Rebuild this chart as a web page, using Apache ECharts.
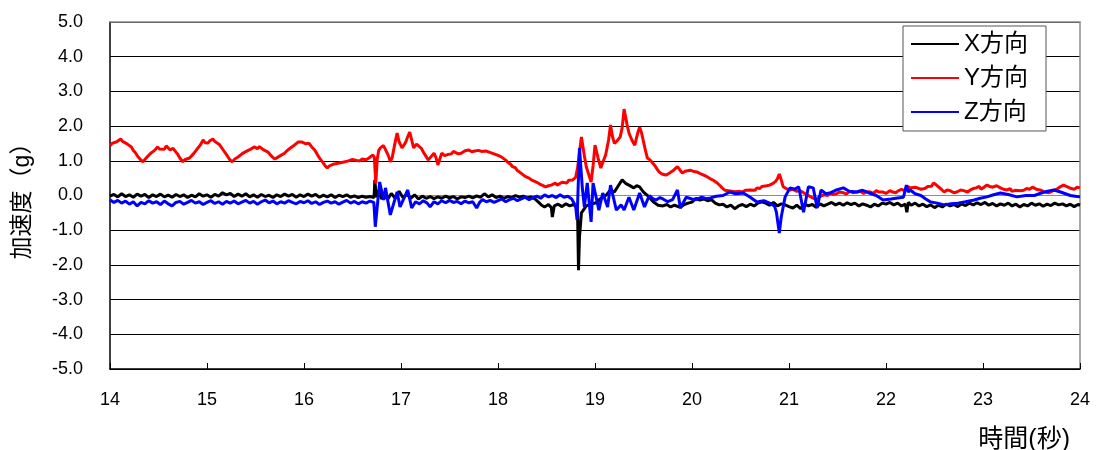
<!DOCTYPE html>
<html>
<head>
<meta charset="utf-8">
<script src="https://cdn.jsdelivr.net/npm/echarts@6/dist/echarts.min.js"></script>
<style>
html,body{margin:0;padding:0;background:#fff;}
#chart{width:1101px;height:450px;}
</style>
</head>
<body>
<div id="chart"></div>
<script>
// Series names
const seriesNames = ['X方向', 'Y方向', 'Z方向'];
const yTicks = [-5, -4, -3, -2, -1, 0, 1, 2, 3, 4, 5];
const xTicks = [14, 15, 16, 17, 18, 19, 20, 21, 22, 23, 24];

// X direction [time (s), acceleration (g)]
const dataX = [
[14.00,-0.02],[14.04,0.03],[14.08,-0.04],[14.12,0.05],[14.16,-0.03],[14.20,0.02],[14.24,-0.05],[14.28,0.04],[14.32,-0.02],[14.36,0.03],
[14.40,-0.06],[14.44,0.02],[14.48,-0.03],[14.52,0.04],[14.56,-0.04],[14.60,0.01],[14.64,-0.05],[14.68,0.03],[14.72,-0.03],[14.76,0.02],
[14.80,-0.06],[14.84,0.01],[14.88,-0.04],[14.92,0.05],[14.96,-0.02],[15.00,0.02],[15.04,-0.05],[15.08,0.03],[15.12,-0.02],[15.16,0.08],
[15.20,0.02],[15.24,0.06],[15.28,-0.03],[15.32,0.04],[15.36,-0.02],[15.40,0.05],[15.44,-0.04],[15.48,0.02],[15.52,-0.05],[15.56,0.03],
[15.60,-0.03],[15.64,0.01],[15.68,-0.06],[15.72,0.02],[15.76,-0.03],[15.80,0.04],[15.84,-0.02],[15.88,0.03],[15.92,-0.05],[15.96,0.02],
[16.00,-0.03],[16.04,0.04],[16.08,-0.02],[16.12,0.03],[16.16,-0.05],[16.20,0.01],[16.24,-0.04],[16.28,0.02],[16.32,-0.06],[16.36,0.01],
[16.40,-0.03],[16.44,0.02],[16.48,-0.05],[16.52,-0.01],[16.56,-0.06],[16.60,-0.02],[16.64,-0.05],[16.68,-0.03],[16.72,-0.06],[16.725,0.10],
[16.73,0.45],[16.745,-0.05],[16.77,0.15],[16.80,-0.10],[16.83,0.05],[16.86,-0.12],[16.90,0.06],[16.94,-0.08],[16.98,0.12],[17.02,-0.06],
[17.06,0.04],[17.10,-0.08],[17.14,0.02],[17.18,-0.10],[17.22,-0.02],[17.26,-0.08],[17.30,-0.03],[17.34,-0.09],[17.38,-0.04],[17.42,-0.08],
[17.46,-0.02],[17.50,-0.07],[17.54,-0.03],[17.58,-0.10],[17.62,-0.04],[17.66,-0.06],[17.70,-0.02],[17.74,-0.07],[17.78,-0.01],[17.82,-0.05],
[17.86,0.05],[17.90,-0.04],[17.94,0.02],[17.98,-0.06],[18.02,-0.02],[18.06,-0.08],[18.10,-0.03],[18.14,-0.06],[18.18,0.00],[18.22,-0.05],
[18.26,-0.02],[18.30,-0.07],[18.34,-0.04],[18.38,-0.10],[18.42,-0.20],[18.45,-0.28],[18.48,-0.33],[18.52,-0.26],[18.55,-0.35],[18.56,-0.62],
[18.58,-0.30],[18.62,-0.25],[18.66,-0.32],[18.70,-0.24],[18.74,-0.30],[18.78,-0.26],[18.81,-0.34],[18.82,-0.45],[18.83,-2.15],[18.84,-1.20],
[18.86,-0.50],[18.91,-0.30],[18.96,-0.25],[19.02,-0.20],[19.05,-0.10],[19.08,-0.05],[19.12,0.02],[19.16,0.16],[19.20,0.10],[19.24,0.28],
[19.28,0.45],[19.32,0.34],[19.35,0.30],[19.40,0.22],[19.43,0.28],[19.46,0.25],[19.50,0.10],[19.56,-0.05],[19.60,-0.18],[19.65,-0.28],
[19.70,-0.30],[19.74,-0.26],[19.78,-0.33],[19.82,-0.28],[19.88,-0.34],[19.92,-0.26],[19.96,-0.22],[20.00,-0.19],[20.04,-0.08],[20.08,-0.13],
[20.12,-0.10],[20.16,-0.15],[20.20,-0.12],[20.24,-0.22],[20.28,-0.27],[20.32,-0.25],[20.36,-0.33],[20.40,-0.28],[20.44,-0.38],[20.48,-0.30],
[20.52,-0.26],[20.56,-0.32],[20.60,-0.25],[20.64,-0.30],[20.68,-0.22],[20.72,-0.18],[20.76,-0.22],[20.80,-0.28],[20.84,-0.20],[20.88,-0.30],
[20.92,-0.24],[20.96,-0.27],[21.00,-0.32],[21.04,-0.36],[21.08,-0.28],[21.12,-0.38],[21.16,-0.25],[21.20,-0.30],[21.24,-0.26],[21.28,-0.34],
[21.32,-0.24],[21.36,-0.30],[21.40,-0.25],[21.44,-0.20],[21.48,-0.27],[21.52,-0.22],[21.56,-0.28],[21.60,-0.21],[21.64,-0.26],[21.68,-0.22],
[21.72,-0.30],[21.76,-0.24],[21.80,-0.28],[21.84,-0.33],[21.88,-0.25],[21.92,-0.30],[21.96,-0.22],[22.00,-0.25],[22.04,-0.20],[22.08,-0.27],
[22.12,-0.22],[22.16,-0.30],[22.20,-0.25],[22.215,-0.48],[22.23,-0.20],[22.26,-0.28],[22.30,-0.22],[22.34,-0.30],[22.38,-0.25],[22.42,-0.32],
[22.46,-0.27],[22.50,-0.35],[22.54,-0.28],[22.58,-0.33],[22.62,-0.25],[22.66,-0.30],[22.70,-0.26],[22.74,-0.32],[22.78,-0.24],[22.82,-0.29],
[22.86,-0.22],[22.90,-0.27],[22.94,-0.21],[22.98,-0.26],[23.02,-0.20],[23.06,-0.28],[23.10,-0.23],[23.14,-0.30],[23.18,-0.24],[23.22,-0.28],
[23.26,-0.22],[23.30,-0.30],[23.34,-0.25],[23.38,-0.33],[23.42,-0.26],[23.46,-0.30],[23.50,-0.22],[23.54,-0.28],[23.58,-0.24],[23.62,-0.31],
[23.66,-0.25],[23.70,-0.29],[23.74,-0.22],[23.78,-0.27],[23.82,-0.24],[23.86,-0.30],[23.90,-0.25],[23.94,-0.32],[23.98,-0.26],[24.00,-0.28]
];

// Y direction [time (s), acceleration (g)]
const dataY = [
[14.00,1.43],[14.02,1.50],[14.04,1.46],[14.07,1.55],[14.09,1.50],[14.11,1.63],[14.13,1.56],[14.15,1.60],[14.18,1.48],[14.20,1.44],
[14.22,1.40],[14.24,1.30],[14.26,1.24],[14.29,1.11],[14.31,1.05],[14.34,0.97],[14.36,1.04],[14.38,1.10],[14.40,1.14],[14.42,1.22],
[14.44,1.20],[14.46,1.30],[14.49,1.40],[14.51,1.34],[14.53,1.38],[14.56,1.33],[14.58,1.43],[14.60,1.37],[14.62,1.31],[14.65,1.36],
[14.68,1.25],[14.70,1.18],[14.72,1.08],[14.75,0.97],[14.77,1.03],[14.79,1.00],[14.82,1.08],[14.84,1.12],[14.86,1.20],[14.89,1.31],
[14.91,1.36],[14.93,1.45],[14.96,1.60],[14.98,1.52],[15.01,1.51],[15.03,1.58],[15.06,1.63],[15.08,1.56],[15.10,1.55],[15.13,1.46],
[15.16,1.34],[15.19,1.22],[15.21,1.14],[15.23,1.05],[15.26,0.97],[15.29,1.06],[15.32,1.11],[15.34,1.16],[15.36,1.20],[15.39,1.25],
[15.41,1.28],[15.44,1.32],[15.46,1.36],[15.49,1.40],[15.52,1.35],[15.54,1.41],[15.56,1.37],[15.58,1.32],[15.60,1.30],[15.63,1.25],
[15.65,1.18],[15.67,1.12],[15.70,1.05],[15.72,1.10],[15.74,1.12],[15.77,1.17],[15.80,1.22],[15.82,1.28],[15.84,1.32],[15.86,1.37],
[15.88,1.42],[15.90,1.45],[15.92,1.50],[15.94,1.54],[15.96,1.52],[15.98,1.54],[16.02,1.49],[16.05,1.51],[16.08,1.40],[16.11,1.31],
[16.13,1.22],[16.15,1.12],[16.17,1.04],[16.19,0.97],[16.22,0.85],[16.24,0.79],[16.26,0.85],[16.28,0.84],[16.30,0.90],[16.32,0.88],
[16.35,0.93],[16.37,0.90],[16.40,0.96],[16.42,0.94],[16.45,0.99],[16.47,0.98],[16.50,1.04],[16.53,1.02],[16.55,0.97],[16.57,0.99],
[16.60,1.05],[16.62,1.00],[16.64,1.03],[16.67,1.08],[16.69,1.05],[16.71,1.17],[16.725,1.10],[16.74,0.35],[16.755,1.05],[16.77,1.30],
[16.79,1.38],[16.82,1.44],[16.84,1.40],[16.87,1.15],[16.89,0.97],[16.91,1.10],[16.93,1.40],[16.96,1.80],[16.98,1.55],[17.01,1.37],
[17.03,1.45],[17.05,1.55],[17.07,1.70],[17.09,1.83],[17.11,1.60],[17.13,1.37],[17.16,1.48],[17.18,1.50],[17.21,1.36],[17.23,1.25],
[17.26,1.12],[17.28,1.02],[17.31,1.12],[17.34,1.22],[17.36,1.10],[17.38,0.88],[17.40,1.05],[17.42,1.22],[17.45,1.15],[17.48,1.18],
[17.50,1.23],[17.52,1.20],[17.54,1.27],[17.56,1.26],[17.59,1.20],[17.62,1.22],[17.64,1.27],[17.66,1.29],[17.68,1.24],[17.70,1.31],
[17.73,1.26],[17.76,1.28],[17.78,1.33],[17.80,1.30],[17.83,1.27],[17.85,1.31],[17.88,1.28],[17.90,1.26],[17.93,1.23],[17.95,1.20],
[17.98,1.18],[18.00,1.17],[18.03,1.12],[18.05,1.08],[18.08,1.02],[18.10,0.96],[18.13,0.90],[18.15,0.83],[18.18,0.80],[18.20,0.72],
[18.23,0.66],[18.25,0.62],[18.28,0.55],[18.32,0.50],[18.35,0.44],[18.37,0.42],[18.40,0.38],[18.43,0.33],[18.46,0.29],[18.49,0.25],
[18.52,0.28],[18.55,0.30],[18.57,0.26],[18.59,0.36],[18.61,0.30],[18.63,0.34],[18.66,0.38],[18.68,0.40],[18.71,0.36],[18.73,0.44],
[18.75,0.40],[18.77,0.45],[18.80,0.52],[18.82,0.79],[18.86,1.69],[18.89,1.15],[18.91,0.83],[18.96,0.39],[18.98,0.85],[19.00,1.45],
[19.03,1.10],[19.06,0.79],[19.08,0.95],[19.11,1.17],[19.14,1.60],[19.16,2.03],[19.18,1.70],[19.20,1.50],[19.23,1.58],[19.26,1.69],
[19.28,1.95],[19.30,2.49],[19.33,2.05],[19.35,1.80],[19.38,1.60],[19.41,1.45],[19.44,1.80],[19.46,1.97],[19.48,1.80],[19.50,1.55],
[19.52,1.30],[19.54,1.08],[19.57,1.02],[19.59,0.97],[19.62,0.85],[19.64,0.76],[19.66,0.68],[19.69,0.62],[19.71,0.64],[19.73,0.59],
[19.76,0.63],[19.78,0.68],[19.81,0.73],[19.83,0.70],[19.85,0.83],[19.88,0.72],[19.90,0.65],[19.93,0.70],[19.95,0.72],[19.98,0.73],
[20.01,0.70],[20.03,0.72],[20.05,0.68],[20.08,0.64],[20.10,0.66],[20.12,0.59],[20.15,0.55],[20.17,0.52],[20.19,0.48],[20.22,0.44],
[20.24,0.40],[20.26,0.36],[20.29,0.28],[20.31,0.22],[20.34,0.15],[20.36,0.10],[20.39,0.13],[20.41,0.14],[20.44,0.11],[20.46,0.16],
[20.49,0.12],[20.52,0.10],[20.55,0.15],[20.57,0.12],[20.60,0.16],[20.62,0.18],[20.65,0.15],[20.67,0.22],[20.70,0.20],[20.72,0.26],
[20.74,0.22],[20.77,0.28],[20.80,0.30],[20.83,0.34],[20.86,0.40],[20.88,0.48],[20.90,0.62],[20.92,0.45],[20.94,0.25],[20.97,0.20],
[21.01,0.16],[21.04,0.18],[21.08,0.12],[21.11,0.14],[21.14,0.10],[21.17,0.04],[21.20,0.00],[21.22,-0.04],[21.25,-0.08],[21.27,-0.05],
[21.29,-0.10],[21.31,-0.04],[21.33,-0.02],[21.36,0.02],[21.38,0.04],[21.40,0.00],[21.42,0.07],[21.45,0.03],[21.49,0.05],[21.52,0.10],
[21.56,0.08],[21.59,0.04],[21.63,0.12],[21.66,0.08],[21.70,0.10],[21.73,0.13],[21.77,0.06],[21.80,0.11],[21.84,0.10],[21.87,0.06],
[21.90,0.14],[21.93,0.10],[21.97,0.10],[22.00,0.06],[22.04,0.14],[22.07,0.10],[22.10,0.08],[22.13,0.14],[22.16,0.18],[22.19,0.14],
[22.22,0.26],[22.25,0.22],[22.27,0.18],[22.30,0.24],[22.32,0.25],[22.36,0.18],[22.40,0.20],[22.43,0.26],[22.45,0.30],[22.47,0.27],
[22.49,0.36],[22.52,0.30],[22.54,0.28],[22.57,0.18],[22.60,0.10],[22.63,0.16],[22.66,0.14],[22.70,0.08],[22.73,0.10],[22.77,0.16],
[22.80,0.14],[22.84,0.10],[22.87,0.16],[22.90,0.20],[22.93,0.22],[22.96,0.26],[22.98,0.18],[23.01,0.24],[23.04,0.30],[23.07,0.26],
[23.10,0.24],[23.14,0.28],[23.18,0.22],[23.21,0.18],[23.25,0.16],[23.28,0.20],[23.30,0.12],[23.33,0.15],[23.35,0.10],[23.39,0.14],
[23.42,0.15],[23.45,0.20],[23.48,0.18],[23.51,0.24],[23.53,0.22],[23.56,0.17],[23.60,0.15],[23.63,0.10],[23.65,0.12],[23.68,0.08],
[23.70,0.10],[23.73,0.15],[23.76,0.18],[23.79,0.24],[23.83,0.30],[23.86,0.26],[23.88,0.24],[23.91,0.20],[23.94,0.18],[23.97,0.24],
[24.00,0.22]
];

// Z direction [time (s), acceleration (g)]
const dataZ = [
[14.00,-0.12],[14.04,-0.20],[14.08,-0.14],[14.12,-0.22],[14.16,-0.16],[14.20,-0.25],[14.24,-0.18],[14.28,-0.30],[14.32,-0.20],[14.36,-0.24],
[14.40,-0.15],[14.44,-0.22],[14.48,-0.18],[14.52,-0.26],[14.56,-0.16],[14.60,-0.24],[14.64,-0.30],[14.68,-0.20],[14.72,-0.17],[14.76,-0.25],
[14.80,-0.20],[14.84,-0.14],[14.88,-0.22],[14.92,-0.18],[14.96,-0.26],[15.00,-0.20],[15.04,-0.15],[15.08,-0.23],[15.12,-0.18],[15.16,-0.25],
[15.20,-0.17],[15.24,-0.22],[15.28,-0.16],[15.32,-0.24],[15.36,-0.19],[15.40,-0.14],[15.44,-0.22],[15.48,-0.17],[15.52,-0.25],[15.56,-0.18],
[15.60,-0.13],[15.64,-0.21],[15.68,-0.16],[15.72,-0.24],[15.76,-0.18],[15.80,-0.22],[15.84,-0.15],[15.88,-0.20],[15.92,-0.24],[15.96,-0.17],
[16.00,-0.21],[16.04,-0.15],[16.08,-0.23],[16.12,-0.18],[16.16,-0.26],[16.20,-0.20],[16.24,-0.16],[16.28,-0.22],[16.32,-0.18],[16.36,-0.25],
[16.40,-0.19],[16.44,-0.14],[16.48,-0.22],[16.52,-0.17],[16.56,-0.24],[16.60,-0.18],[16.64,-0.22],[16.68,-0.16],[16.72,-0.20],[16.735,-0.90],
[16.78,0.39],[16.82,-0.13],[16.84,0.22],[16.89,-0.56],[16.96,0.10],[16.99,-0.33],[17.07,0.16],[17.11,-0.36],[17.15,-0.18],[17.19,-0.24],
[17.23,-0.15],[17.27,-0.22],[17.30,-0.33],[17.34,-0.18],[17.38,-0.24],[17.42,-0.15],[17.46,-0.21],[17.50,-0.14],[17.54,-0.20],[17.58,-0.17],
[17.62,-0.24],[17.66,-0.16],[17.70,-0.21],[17.74,-0.18],[17.78,-0.36],[17.81,-0.20],[17.84,-0.12],[17.88,-0.18],[17.92,-0.14],[17.96,-0.20],
[18.00,-0.15],[18.04,-0.10],[18.08,-0.18],[18.12,-0.12],[18.16,-0.08],[18.20,-0.15],[18.24,-0.10],[18.28,-0.05],[18.32,-0.12],[18.36,-0.06],
[18.40,-0.02],[18.44,-0.08],[18.48,0.02],[18.52,-0.04],[18.56,0.00],[18.60,-0.06],[18.64,0.02],[18.68,-0.05],[18.72,-0.02],[18.76,-0.10],
[18.80,-0.30],[18.815,-0.70],[18.84,1.37],[18.87,0.20],[18.89,-0.33],[18.92,0.36],[18.96,-0.76],[18.98,0.36],[19.04,-0.42],[19.08,0.07],
[19.13,-0.33],[19.16,0.30],[19.22,-0.42],[19.27,-0.27],[19.30,-0.42],[19.35,-0.05],[19.40,-0.42],[19.46,0.07],[19.51,-0.33],[19.56,0.00],
[19.60,-0.10],[19.63,-0.13],[19.67,-0.06],[19.70,-0.10],[19.75,-0.18],[19.80,-0.12],[19.85,0.16],[19.88,-0.36],[19.94,-0.05],[20.00,-0.10],
[20.04,-0.12],[20.10,-0.05],[20.15,-0.09],[20.19,-0.07],[20.25,-0.02],[20.32,0.00],[20.39,0.10],[20.45,0.05],[20.53,0.07],[20.60,-0.05],
[20.67,-0.19],[20.74,-0.15],[20.80,-0.22],[20.85,-0.30],[20.87,-0.48],[20.90,-1.08],[20.92,-0.62],[20.96,-0.04],[21.01,0.22],[21.06,0.18],
[21.10,0.25],[21.15,-0.48],[21.20,0.25],[21.25,0.22],[21.29,-0.36],[21.33,0.16],[21.38,0.05],[21.42,0.07],[21.48,0.15],[21.56,0.22],
[21.62,0.12],[21.70,0.10],[21.76,0.15],[21.82,0.08],[21.90,0.00],[21.97,-0.13],[22.05,-0.10],[22.12,-0.07],[22.18,-0.05],[22.21,0.30],
[22.23,0.10],[22.25,0.16],[22.30,0.05],[22.36,0.00],[22.41,-0.10],[22.46,-0.19],[22.53,-0.22],[22.60,-0.27],[22.67,-0.24],[22.74,-0.22],
[22.82,-0.18],[22.91,-0.13],[22.97,-0.08],[23.04,-0.04],[23.11,0.02],[23.18,0.07],[23.26,0.03],[23.35,-0.04],[23.44,0.00],[23.53,0.00],
[23.63,0.10],[23.73,0.16],[23.80,0.10],[23.90,0.00],[23.95,-0.02],[24.00,-0.04]
];

const seriesColors = ['#000000', '#ff0000', '#0000ff'];
const seriesData = [dataX, dataY, dataZ];

const FONT = '"Liberation Sans", Arial, "Noto Sans CJK JP", sans-serif';

// split line colours: zero line gray, others black
const splitColors = yTicks.map(v => (v === 0) ? '#8c8c8c' : '#000000');

const chart = echarts.init(document.getElementById('chart'), null, {renderer: 'canvas'});
chart.setOption({
  animation: false,
  backgroundColor: '#ffffff',
  grid: {left: 110, right: 21, top: 22, bottom: 81, containLabel: false},
  title: {
    text: '時間(秒)',
    right: 26, top: 423,
    textStyle: {fontFamily: FONT, fontSize: 25, fontWeight: 'normal', color: '#000'}
  },
  legend: {
    orient: 'vertical',
    left: 903, top: 26,
    padding: [6, 18, 7, 8],
    itemGap: 10,
    itemWidth: 48,
    itemHeight: 2,
    icon: 'rect',
    backgroundColor: '#ffffff',
    borderColor: '#555555',
    borderWidth: 1,
    borderRadius: 0,
    textStyle: {fontFamily: FONT, fontSize: 24, color: '#000', padding: [0, 0, 0, 0]},
    data: seriesNames
  },
  xAxis: [{
    type: 'value',
    min: xTicks[0], max: xTicks[xTicks.length - 1], interval: 1,
    axisLine: {onZero: false, lineStyle: {color: '#000', width: 1.5}},
    axisTick: {show: true, inside: true, length: 6, lineStyle: {color: '#000'}},
    axisLabel: {fontFamily: FONT, fontSize: 18, color: '#000', margin: 22},
    splitLine: {show: false}
  }, {
    type: 'value',
    position: 'top',
    min: xTicks[0], max: xTicks[xTicks.length - 1], interval: 1,
    axisLine: {show: true, onZero: false, lineStyle: {color: '#8c8c8c', width: 1.5}},
    axisTick: {show: false},
    axisLabel: {show: false},
    splitLine: {show: false}
  }],
  yAxis: [{
    type: 'value',
    min: yTicks[0], max: yTicks[yTicks.length - 1], interval: 1,
    name: '加速度（g）',
    nameLocation: 'middle',
    nameGap: 76,
    nameRotate: 90,
    nameTextStyle: {fontFamily: FONT, fontSize: 23, color: '#000'},
    axisLine: {show: true, onZero: false, lineStyle: {color: '#000', width: 1.5}},
    axisTick: {show: false},
    axisLabel: {fontFamily: FONT, fontSize: 18, color: '#000', margin: 27,
      formatter: v => v.toFixed(1)},
    splitLine: {show: true, lineStyle: {color: splitColors, width: 1.2}}
  }, {
    type: 'value',
    position: 'right',
    min: yTicks[0], max: yTicks[yTicks.length - 1], interval: 1,
    axisLine: {show: true, onZero: false, lineStyle: {color: '#8c8c8c', width: 1.5}},
    axisTick: {show: false},
    axisLabel: {show: false},
    splitLine: {show: false}
  }],
  series: seriesNames.map((name, i) => ({
    name: name,
    type: 'line',
    xAxisIndex: 0,
    yAxisIndex: 0,
    data: seriesData[i],
    showSymbol: false,
    symbol: 'none',
    color: seriesColors[i],
    lineStyle: {color: seriesColors[i], width: 3},
    z: 2 + i
  }))
});
</script>
</body>
</html>
